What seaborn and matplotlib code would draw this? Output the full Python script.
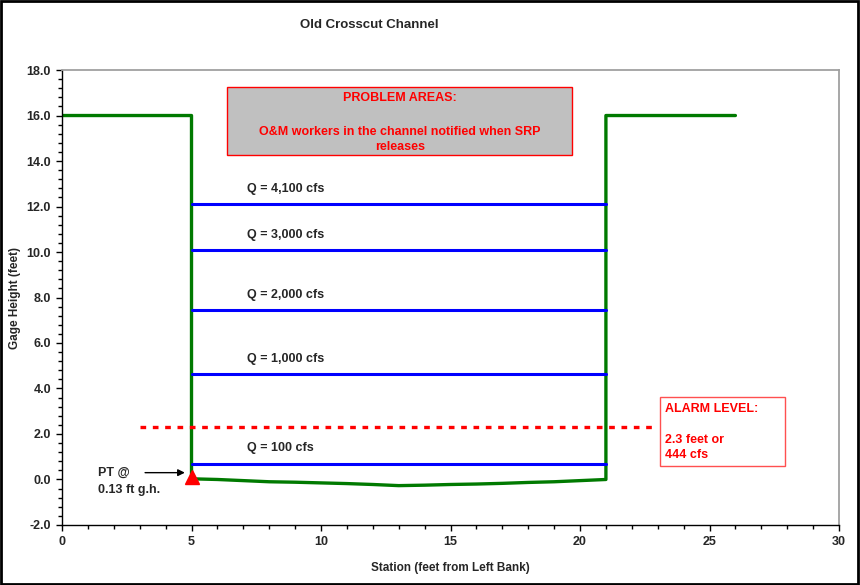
import matplotlib
matplotlib.use('Agg')
import matplotlib.pyplot as plt
from matplotlib.patches import Rectangle
from matplotlib.ticker import MultipleLocator, FormatStrFormatter
import seaborn as sns
import pandas as pd

# channel cross section (station, gage height)
station = [0, 5, 5, 6, 7, 8, 9, 10, 11, 12, 13, 14, 15, 16, 17, 18, 19, 20, 21, 21, 26]
height = [16.0, 16.0, 0.03, 0.0, -0.05, -0.1, -0.12, -0.15, -0.18, -0.22, -0.27,
          -0.25, -0.22, -0.2, -0.17, -0.13, -0.1, -0.05, 0.0, 16.0, 16.0]

# water surface for each flow
q_labels = ['Q = 4,100 cfs', 'Q = 3,000 cfs', 'Q = 2,000 cfs', 'Q = 1,000 cfs', 'Q = 100 cfs']
q_levels = [12.1, 10.1, 7.45, 4.65, 0.7]
q_x = [5, 21]

alarm_x = [3, 23]
alarm_level = 2.3
pt_x = 5
pt_height = 0.13

sns.set_style('ticks')
plt.rcParams['font.family'] = ['Liberation Sans', 'DejaVu Sans']
plt.rcParams['font.weight'] = 'bold'

fig = plt.figure(figsize=(8.6, 5.85), dpi=100)
ax = fig.add_axes([0.0721, 0.1026, 0.9035, 0.7777])

sec = pd.DataFrame({'station': station, 'height': height})
sns.lineplot(data=sec, x='station', y='height', sort=False, estimator=None,
             color='#007A00', lw=2.4, ax=ax)

for lab, lv in zip(q_labels, q_levels):
    sns.lineplot(x=q_x, y=[lv, lv], estimator=None, color='#0000FF', lw=2.2, ax=ax)
    ax.text(7.15, lv + 0.4, lab, fontsize=9, fontweight='bold', va='bottom', ha='left')

sns.lineplot(x=alarm_x, y=[alarm_level, alarm_level], estimator=None, color='#FF0000', lw=2.4,
             ax=ax, linestyle=(0, (1.7, 2.0)))

ax.plot([pt_x], [pt_height], marker='^', color='#FF0000', ms=10, clip_on=False, zorder=5)
ax.annotate('', xy=(4.85, 0.3), xytext=(3.1, 0.3),
            arrowprops=dict(arrowstyle='-|>', color='black', lw=1, mutation_scale=10))
ax.text(1.4, 0.3, 'PT @', fontsize=9, fontweight='bold', va='center', ha='left')
ax.text(1.4, -0.45, '0.13 ft g.h.', fontsize=9, fontweight='bold', va='center', ha='left')

# text boxes
ax.add_patch(Rectangle((6.38, 14.26), 13.32, 3.0, facecolor='#C0C0C0', edgecolor='#FF0000', lw=1, zorder=4))
ax.text(13.04, 16.75, 'PROBLEM AREAS:', color='#FF0000', fontsize=9, fontweight='bold',
        ha='center', va='center', zorder=5)
ax.text(13.04, 14.95, 'O&M workers in the channel notified when SRP\nreleases', color='#FF0000',
        fontsize=9, fontweight='bold', ha='center', va='center', linespacing=1.3, zorder=5)

ax.add_patch(Rectangle((23.1, 0.6), 4.8, 3.03, facecolor='white', edgecolor='#FF5050', lw=1, zorder=4))
ax.text(23.3, 3.1, 'ALARM LEVEL:', color='#FF0000', fontsize=9, fontweight='bold',
        ha='left', va='center', zorder=5)
ax.text(23.3, 1.42, '2.3 feet or\n444 cfs', color='#FF0000', fontsize=9, fontweight='bold',
        ha='left', va='center', linespacing=1.3, zorder=5)

ax.set_xlim(0, 30)
ax.set_ylim(-2, 18)
ax.xaxis.set_major_locator(MultipleLocator(5))
ax.xaxis.set_minor_locator(MultipleLocator(1))
ax.yaxis.set_major_locator(MultipleLocator(2))
ax.yaxis.set_minor_locator(MultipleLocator(0.4))
ax.yaxis.set_major_formatter(FormatStrFormatter('%.1f'))
ax.tick_params(which='major', direction='out', length=4.5, width=1, labelsize=9, color='black')
ax.tick_params(which='minor', direction='out', length=3, width=1, color='black')
for t in ax.get_xticklabels() + ax.get_yticklabels():
    t.set_fontweight('bold')

for s in ['left', 'bottom']:
    ax.spines[s].set_color('black')
    ax.spines[s].set_linewidth(1)
for s in ['top', 'right']:
    ax.spines[s].set_visible(True)
    ax.spines[s].set_color('#A0A0A0')
    ax.spines[s].set_linewidth(1.3)

ax.set_xlabel('Station (feet from Left Bank)', fontsize=8.5, fontweight='bold', labelpad=10)
ax.set_ylabel('Gage Height (feet)', fontsize=8.5, fontweight='bold', labelpad=4)
fig.text(0.43, 0.958, 'Old Crosscut Channel', ha='center', va='center', fontsize=9.5, fontweight='bold')

fig.patches.append(Rectangle((0.001, 0.002), 0.997, 0.996, transform=fig.transFigure,
                             fill=False, edgecolor='black', lw=2))

fig.savefig('out.png', dpi=100)
